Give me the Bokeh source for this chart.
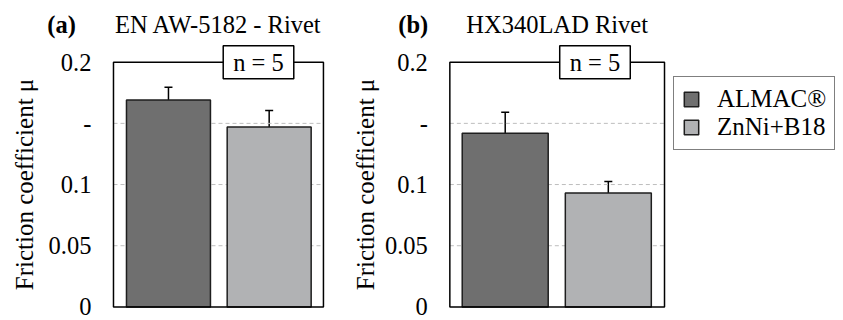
from bokeh.plotting import figure
from bokeh.models import (ColumnDataSource, Range1d, FixedTicker, Whisker,
                          TeeHead, Label, Legend, LegendItem, BoxAnnotation)
from bokeh.layouts import row
from bokeh.embed import file_html
from bokeh.resources import INLINE

# ---------------- data ----------------
coatings = ["ALMAC®", "ZnNi+B18"]
bar_colors = ["#6f6f6f", "#b1b2b4"]
panel_tags = ["(a)", "(b)"]
panel_titles = ["EN AW-5182 - Rivet", "HX340LAD Rivet"]
mean_a = [0.169, 0.147]
err_a = [0.0105, 0.0135]
mean_b = [0.142, 0.093]
err_b = [0.017, 0.0095]
y_ticks = [0, 0.05, 0.1, 0.15, 0.2]
y_tick_labels = ["0", "0.05", "0.1", "-", "0.2"]
sample_label = "n = 5"
y_label = "Friction coefficient μ"

FONT = "Liberation Serif"
FS = "24.5px"
H = 320
Y_RANGE = (-0.0111, 0.2504)


def make_panel(means, errs, width, x_span, box_lr, tag, title, tag_x, title_x, n_x,
               label_standoff):
    pos = list(range(len(coatings)))
    src = ColumnDataSource(dict(
        x=pos, top=means, color=bar_colors,
        upper=[m + e for m, e in zip(means, errs)],
        lower=[m - e for m, e in zip(means, errs)],
    ))
    p = figure(width=width, height=H, output_backend="svg", toolbar_location=None,
               x_range=Range1d(*x_span), y_range=Range1d(*Y_RANGE),
               x_axis_location=None, min_border=0)
    p.background_fill_color = "white"
    p.border_fill_color = "white"
    p.outline_line_color = None
    p.xgrid.visible = False
    p.ygrid.visible = False

    # dashed grid lines inside the plot box only
    inner = y_ticks[1:-1]
    grid_src = ColumnDataSource(dict(y=inner, x0=[box_lr[0]] * len(inner),
                                     x1=[box_lr[1]] * len(inner)))
    p.segment(x0="x0", x1="x1", y0="y", y1="y", source=grid_src,
              line_color="#bdbdbd", line_dash="4 3", line_width=1)

    r = p.vbar(x="x", top="top", width=0.834, source=src, fill_color="color",
               line_color="#1e1e1e", line_width=1.5)

    w = Whisker(base="x", upper="upper", lower="lower", source=src,
                line_color="black", line_width=1.5,
                upper_head=TeeHead(size=8, line_width=1.5, line_color="black"),
                lower_head=TeeHead(size=8, line_width=1.5, line_color="black"))
    p.add_layout(w)

    # plot box from first to last y tick
    p.add_layout(BoxAnnotation(bottom=y_ticks[0], top=y_ticks[-1], left=box_lr[0], right=box_lr[1],
                               fill_alpha=0, line_color="black", line_width=1.5, line_alpha=1))

    ax = p.yaxis[0]
    ax.fixed_location = box_lr[0]
    ax.bounds = (y_ticks[0], y_ticks[-1])
    ax.ticker = FixedTicker(ticks=y_ticks)
    ax.major_label_overrides = dict(zip(y_ticks, y_tick_labels))
    ax.axis_line_color = None
    ax.major_tick_line_color = None
    ax.minor_tick_line_color = None
    ax.major_tick_out = 0
    ax.major_tick_in = 0
    ax.minor_tick_out = 0
    ax.minor_tick_in = 0
    ax.major_label_standoff = 22
    ax.major_label_text_font = FONT
    ax.major_label_text_font_size = FS
    ax.major_label_text_color = "black"
    ax.axis_label = y_label
    ax.axis_label_text_font = FONT
    ax.axis_label_text_font_size = "25px"
    ax.axis_label_text_font_style = "normal"
    ax.axis_label_text_color = "black"
    ax.axis_label_standoff = label_standoff

    p.add_layout(Label(x=n_x, y=y_ticks[-1], x_units="screen", y_units="data", text=sample_label,
                       text_font=FONT, text_font_size=FS, text_color="black",
                       text_align="center", text_baseline="middle",
                       background_fill_color="white", border_line_color="black",
                       border_line_width=1.5, padding=(10, 3)))
    p.add_layout(Label(x=tag_x, y=H - 24, x_units="screen", y_units="screen", text=tag,
                       text_font=FONT, text_font_size=FS, text_font_style="bold",
                       text_color="black", text_align="center", text_baseline="alphabetic"))
    p.add_layout(Label(x=title_x, y=H - 24, x_units="screen", y_units="screen", text=title,
                       text_font=FONT, text_font_size=FS, text_color="black",
                       text_align="center", text_baseline="alphabetic"))
    return p, r


pa, ra = make_panel(mean_a, err_a, width=345, x_span=(-1.668, 1.758), box_lr=(-0.546, 1.539),
                    tag=panel_tags[0], title=panel_titles[0], tag_x=61, title_x=218, n_x=258,
                    label_standoff=8)
pb, rb = make_panel(mean_b, err_b, width=498, x_span=(-1.549, 3.281), box_lr=(-0.537, 1.545),
                    tag=panel_tags[1], title=panel_titles[1], tag_x=67.7, title_x=211.7, n_x=249.5,
                    label_standoff=3)

legend = Legend(items=[LegendItem(label=c, renderers=[rb], index=i) for i, c in enumerate(coatings)],
                location=(328, 170), orientation="vertical",
                label_text_font=FONT, label_text_font_size="25px", label_text_color="black",
                glyph_width=18, glyph_height=18, label_standoff=17,
                padding=8, spacing=0, margin=0,
                border_line_color="black", border_line_width=1.5,
                background_fill_color="white", background_fill_alpha=1.0)
pb.add_layout(legend)

layout = row(pa, pb)
open("out.html", "w").write(file_html(layout, INLINE))
